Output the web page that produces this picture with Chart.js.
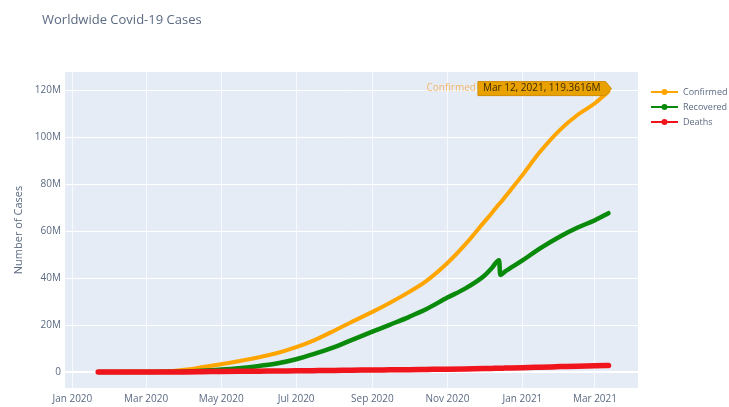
<!DOCTYPE html>
<html>
<head>
<meta charset="utf-8">
<script src="https://cdn.jsdelivr.net/npm/chart.js@4"></script>
<style>
  html, body { margin: 0; padding: 0; background: #fff; }
  #wrap { width: 729px; height: 407px; position: relative; }
</style>
</head>
<body>
<div id="wrap"><canvas id="covidChart"></canvas></div>
<script>
// DATA (values in millions)
const dates = ['2020-01-22', '2020-02-15', '2020-03-01', '2020-03-15', '2020-04-01', '2020-04-15',
    '2020-05-01', '2020-05-15', '2020-06-01', '2020-06-15', '2020-07-01', '2020-07-15',
    '2020-08-01', '2020-08-15', '2020-09-01', '2020-09-15', '2020-10-01', '2020-10-15',
    '2020-11-01', '2020-11-15', '2020-12-01', '2020-12-07', '2020-12-13', '2020-12-14', '2020-12-18',
    '2021-01-01', '2021-01-15', '2021-02-01', '2021-02-15', '2021-03-01', '2021-03-12'];
const confirmed = [0.0006, 0.07, 0.09, 0.17, 0.93, 2.0, 3.35, 4.6, 6.3, 8.0, 10.6, 13.4,
    17.6, 21.3, 25.6, 29.4, 34.1, 38.8, 46.4, 54.0, 63.9, 67.6, 71.5, 72.0, 74.6,
    83.8, 93.5, 103.3, 109.5, 114.4, 119.36];
const recovered = [0.00003, 0.01, 0.045, 0.08, 0.19, 0.5, 1.05, 1.65, 2.6, 3.6, 5.45, 7.6,
    10.6, 13.6, 17.2, 20.1, 23.5, 26.8, 31.7, 35.4, 41.0, 44.2, 47.6, 41.3, 42.8,
    47.5, 52.5, 57.8, 61.5, 64.6, 67.6];
const deaths = [0.00002, 0.002, 0.003, 0.006, 0.05, 0.13, 0.24, 0.31, 0.38, 0.45, 0.52, 0.59,
    0.68, 0.77, 0.85, 0.93, 1.02, 1.1, 1.2, 1.32, 1.48, 1.55, 1.62, 1.63, 1.68,
    1.85, 2.05, 2.3, 2.5, 2.68, 2.8];
const tickDates = ['2020-01-01', '2020-03-01', '2020-05-01', '2020-07-01', '2020-09-01', '2020-11-01', '2021-01-01', '2021-03-01'];
const tickLabels = ['Jan 2020', 'Mar 2020', 'May 2020', 'Jul 2020', 'Sep 2020', 'Nov 2020', 'Jan 2021', 'Mar 2021'];
const yTicks = [0, 20, 40, 60, 80, 100, 120];
const hoverText = 'Mar 12, 2021, 119.3616M';

const textColor = '#5b6a82';
const FONT = '"Open Sans", "Noto Sans", sans-serif';

// day offset from Jan 1 2020
function dayOf(s) {
    const p = s.split('-').map(Number);
    return (Date.UTC(p[0], p[1] - 1, p[2]) - Date.UTC(2020, 0, 1)) / 864e5;
}
const pts = arr => arr.map((v, i) => ({ x: dayOf(dates[i]), y: v }));

const series = [
    { label: 'Confirmed', data: confirmed, color: '#ffa500', width: 4, order: 2 },
    { label: 'Recovered', data: recovered, color: '#0a8a0a', width: 4.5, order: 1 },
    { label: 'Deaths', data: deaths, color: '#f0141c', width: 5.5, order: 0 }
];

// FUNDO, TÍTULO, LEGENDA E RÓTULO DE HOVER
const decor = {
    id: 'decor',
    beforeDraw(chart) {
        const { ctx, chartArea: a } = chart;
        ctx.save();
        ctx.fillStyle = '#e5ecf6';
        ctx.fillRect(a.left, a.top, a.right - a.left, a.bottom - a.top);
        ctx.restore();
    },
    afterDraw(chart) {
        const ctx = chart.ctx;
        ctx.save();
        ctx.font = '13px ' + FONT;
        ctx.fillStyle = textColor;
        ctx.textBaseline = 'middle';
        ctx.fillText('Worldwide Covid-19 Cases', 42, 20);

        // legend
        ctx.font = '9px ' + FONT;
        series.forEach((s, i) => {
            const y = 92 + i * 15;
            ctx.strokeStyle = s.color;
            ctx.lineWidth = 2;
            ctx.beginPath(); ctx.moveTo(651, y); ctx.lineTo(678, y); ctx.stroke();
            ctx.fillStyle = s.color;
            ctx.beginPath(); ctx.arc(664.5, y, 3, 0, Math.PI * 2); ctx.fill();
            ctx.fillStyle = textColor;
            ctx.fillText(s.label, 683, y);
        });

        // hover label at last confirmed point
        const meta = chart.getDatasetMeta(0);
        const p = meta.data[meta.data.length - 1];
        const tipX = p.x + 3, tipY = p.y - 3;
        ctx.font = '10px ' + FONT;
        const tw = ctx.measureText(hoverText).width;
        const right = tipX - 6, left = right - tw - 10, h = 14;
        ctx.fillStyle = '#e9a100';
        ctx.strokeStyle = '#d08c00';
        ctx.lineWidth = 1;
        ctx.beginPath();
        ctx.moveTo(left, tipY - h / 2);
        ctx.lineTo(right, tipY - h / 2);
        ctx.lineTo(tipX, tipY);
        ctx.lineTo(right, tipY + h / 2);
        ctx.lineTo(left, tipY + h / 2);
        ctx.closePath();
        ctx.fill(); ctx.stroke();
        ctx.fillStyle = '#3a2a00';
        ctx.textAlign = 'left';
        ctx.fillText(hoverText, left + 5, tipY);
        ctx.fillStyle = 'rgba(245,165,60,0.75)';
        ctx.textAlign = 'right';
        ctx.fillText('Confirmed', left - 2, tipY);
        ctx.restore();
    }
};

const ctx = document.getElementById('covidChart').getContext('2d');
new Chart(ctx, {
    type: 'line',
    data: {
        datasets: series.map(s => ({
            label: s.label,
            data: pts(s.data),
            borderColor: s.color,
            backgroundColor: s.color,
            borderWidth: s.width,
            borderCapStyle: 'round',
            borderJoinStyle: 'round',
            pointRadius: 0,
            cubicInterpolationMode: 'monotone',
            fill: false,
            order: s.order
        }))
    },
    options: {
        responsive: true,
        maintainAspectRatio: false,
        animation: false,
        layout: { padding: { top: 72, right: 91, left: 0, bottom: 0 } },
        plugins: { legend: { display: false }, tooltip: { enabled: false }, title: { display: false } },
        scales: {
            x: {
                type: 'linear',
                min: -6,
                max: 460,
                afterFit: axis => { axis.height = 19; },
                afterBuildTicks: axis => { axis.ticks = tickDates.map(d => ({ value: dayOf(d) })); },
                ticks: {
                    autoSkip: false, maxRotation: 0, padding: 5,
                    color: textColor, font: { family: FONT, size: 10 },
                    callback: (v) => tickLabels[tickDates.findIndex(d => dayOf(d) === v)]
                },
                grid: { color: 'rgba(255,255,255,0.75)', lineWidth: 1, drawTicks: false },
                border: { display: false }
            },
            y: {
                min: -6.8,
                max: 127.7,
                afterFit: axis => { axis.width = 65; },
                afterBuildTicks: axis => { axis.ticks = yTicks.map(v => ({ value: v })); },
                ticks: {
                    padding: 4,
                    color: textColor, font: { family: FONT, size: 10 },
                    callback: v => v === 0 ? '0' : v + 'M'
                },
                grid: { color: '#ffffff', lineWidth: c => c.tick && c.tick.value === 0 ? 2 : 1, drawTicks: false },
                border: { display: false },
                title: { display: true, text: 'Number of Cases', color: textColor, font: { family: FONT, size: 11 }, padding: { top: 12, bottom: 0 } }
            }
        }
    },
    plugins: [decor]
});
</script>
</body>
</html>
